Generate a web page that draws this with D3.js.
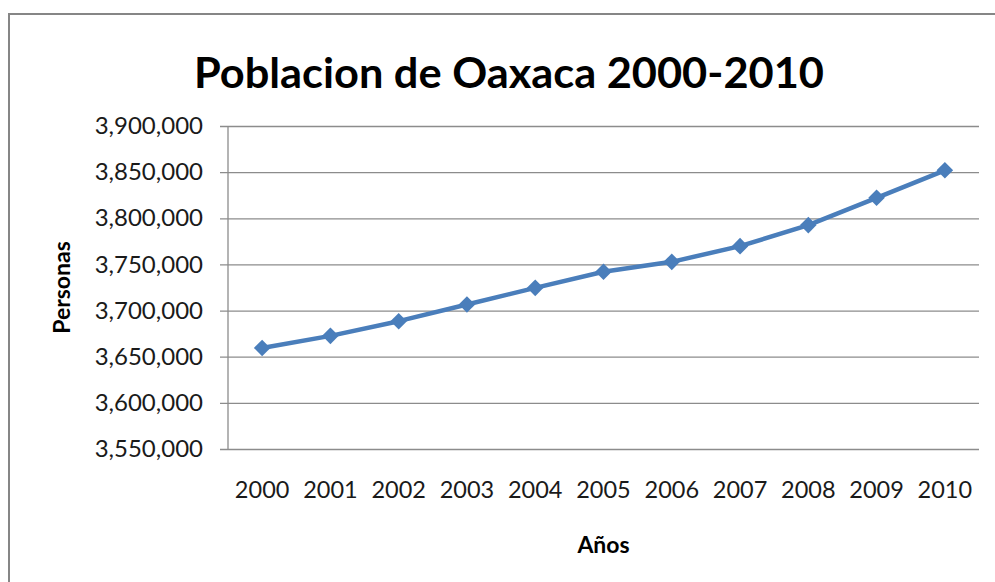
<!DOCTYPE html>
<html>
<head>
<meta charset="utf-8">
<script src="https://cdn.jsdelivr.net/npm/d3@7"></script>
<style>
  html, body { margin: 0; padding: 0; background: #fff; }
  svg { display: block; font-family: Lato, "Open Sans", sans-serif; }
</style>
</head>
<body>
<svg id="chart" width="995" height="582"></svg>
<script>
// data
const years = ['2000', '2001', '2002', '2003', '2004', '2005', '2006', '2007', '2008', '2009', '2010']
const personas = [3659500, 3672600, 3688500, 3706600, 3724600, 3742000, 3752800, 3769800, 3792600, 3822200, 3852000]
const yTicks = [3550000, 3600000, 3650000, 3700000, 3750000, 3800000, 3850000, 3900000]

const LINE_COLOR = '#4a7ebb'
const GRID_COLOR = '#8c8c8c'

const svg = d3.select('#chart')
const plot = {left: 228, right: 979, top: 126, bottom: 449}

// chart frame, runs off the right and bottom edge like the source
svg.append('rect')
    .attr('x', 9).attr('y', 14)
    .attr('width', 1000).attr('height', 600)
    .attr('fill', 'none')
    .attr('stroke', '#868686')
    .attr('stroke-width', 2)

const x = d3.scaleBand()
    .domain(years)
    .range([plot.left, plot.right])

const y = d3.scaleLinear()
    .domain([3550000, 3900000])
    .range([plot.bottom, plot.top])

const fmt = d3.format(',')

// y axis with the gridlines
const yAxis = svg.append('g')
    .attr('transform', `translate(${plot.left},0)`)
    .call(d3.axisLeft(y).tickValues(yTicks).tickFormat(fmt).tickSize(8).tickPadding(17))

yAxis.select('.domain').remove()
yAxis.selectAll('.tick line')
    .attr('x2', plot.right - plot.left)
    .attr('x1', -8)
    .attr('stroke', GRID_COLOR)
    .attr('stroke-width', 1.3)
yAxis.selectAll('.tick text')
    .attr('fill', '#1a1a1a')
    .style('font-size', '24px')
    .style('font-family', 'Lato, sans-serif')

svg.append('line')
    .attr('x1', plot.left).attr('x2', plot.left)
    .attr('y1', plot.top).attr('y2', plot.bottom)
    .attr('stroke', GRID_COLOR)
    .attr('stroke-width', 1.3)

// x axis: labels only
const xAxis = svg.append('g')
    .attr('transform', `translate(0,${plot.bottom})`)
    .call(d3.axisBottom(x).tickSize(0).tickPadding(32))

xAxis.select('.domain').remove()
xAxis.selectAll('.tick text')
    .attr('fill', '#1a1a1a')
    .style('font-size', '23.5px')
    .style('font-family', 'Lato, sans-serif')

// the series
const line = d3.line()
    .x((d, i) => x(years[i]) + x.bandwidth() / 2)
    .y((d) => y(d))

svg.append('path')
    .datum(personas)
    .attr('d', line)
    .attr('fill', 'none')
    .attr('stroke', LINE_COLOR)
    .attr('stroke-width', 4.5)
    .attr('stroke-linejoin', 'round')

svg.append('g').selectAll('path')
    .data(personas)
    .join('path')
        .attr('d', d3.symbol(d3.symbolDiamond2, 175))
        .attr('transform', (d, i) => `translate(${x(years[i]) + x.bandwidth() / 2},${y(d)})`)
        .attr('fill', LINE_COLOR)

// titles
svg.append('text')
    .attr('x', 509).attr('y', 88)
    .attr('text-anchor', 'middle')
    .attr('textLength', 630)
    .attr('lengthAdjust', 'spacingAndGlyphs')
    .style('font-size', '42px')
    .style('font-weight', 'bold')
    .text('Poblacion de Oaxaca 2000-2010')

svg.append('text')
    .attr('x', (plot.left + plot.right) / 2).attr('y', 553)
    .attr('text-anchor', 'middle')
    .style('font-size', '23px')
    .style('font-weight', 'bold')
    .text('Años')

svg.append('text')
    .attr('transform', `translate(70,${(plot.top + plot.bottom) / 2}) rotate(-90)`)
    .attr('text-anchor', 'middle')
    .style('font-size', '23px')
    .style('font-weight', 'bold')
    .text('Personas')
</script>
</body>
</html>
